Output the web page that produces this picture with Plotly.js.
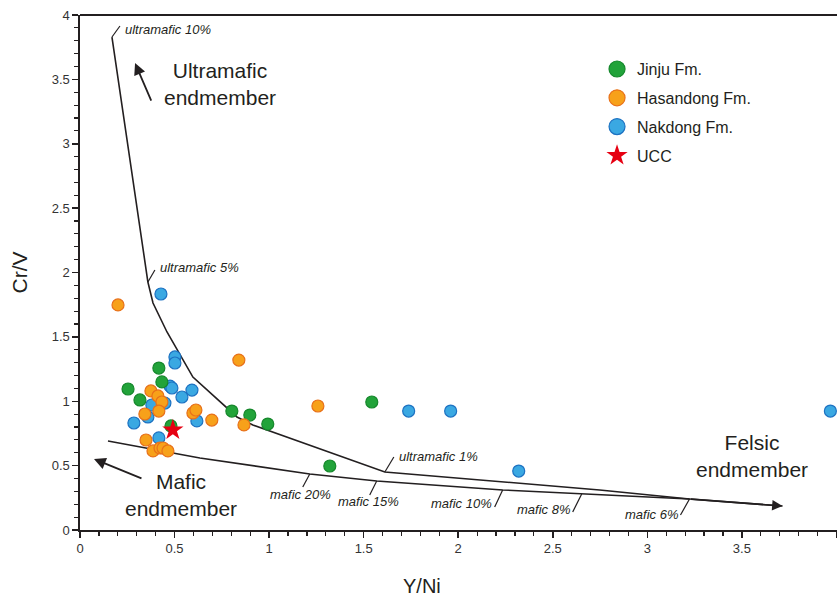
<!DOCTYPE html>
<html>
<head>
<meta charset="utf-8">
<script src="https://cdn.plot.ly/plotly-3.0.1.min.js"></script>
<style>html,body{margin:0;padding:0;background:#fff;}#chart{width:837px;height:599px;}</style>
</head>
<body>
<div id="chart"></div>
<script>
// ---- Data ----
const jinjuX = [0.254, 0.317, 0.417, 0.433, 0.481, 0.803, 0.898, 0.993, 1.543, 1.321];
const jinjuY = [1.095, 1.010, 1.258, 1.150, 0.808, 0.924, 0.893, 0.823, 0.994, 0.497];

const hasandongX = [0.201, 0.840, 1.258, 0.375, 0.412, 0.433, 0.417, 0.343, 0.597, 0.613, 0.697, 0.867, 0.349, 0.386, 0.423, 0.439, 0.465];
const hasandongY = [1.748, 1.320, 0.963, 1.080, 1.041, 0.994, 0.924, 0.901, 0.909, 0.932, 0.854, 0.816, 0.699, 0.614, 0.637, 0.637, 0.614];

const nakdongX = [0.428, 0.502, 0.502, 0.476, 0.486, 0.592, 0.539, 0.380, 0.449, 0.359, 0.285, 0.618, 0.417, 1.738, 1.960, 2.320, 3.968];
const nakdongY = [1.833, 1.344, 1.297, 1.118, 1.103, 1.087, 1.033, 0.971, 0.986, 0.878, 0.831, 0.847, 0.715, 0.924, 0.924, 0.458, 0.924];

const uccX = [0.491];
const uccY = [0.777];

// ultramafic mixing curve
const ultraX = [0.169, 0.359, 0.386, 0.460, 0.597, 0.830, 0.914, 1.612, 2.748, 3.223];
const ultraY = [3.829, 1.926, 1.763, 1.538, 1.188, 0.878, 0.816, 0.450, 0.311, 0.241];
// mafic mixing curve
const maficX = [0.148, 0.634, 1.215, 1.569, 2.235, 2.653, 3.223, 3.715];
const maficY = [0.691, 0.559, 0.435, 0.381, 0.311, 0.280, 0.241, 0.186];

const tickVals = [0, 0.5, 1, 1.5, 2, 2.5, 3, 3.5, 4];
const tickText = ['0', '0.5', '1', '1.5', '2', '2.5', '3', '3.5', '4'];

const seriesNames = ['Jinju Fm.', 'Hasandong Fm.', 'Nakdong Fm.', 'UCC'];

// labels along curves (index into curve arrays)
const curveLabels = [
  {curve: 'u', i: 0, text: 'ultramafic 10%'},
  {curve: 'u', i: 1, text: 'ultramafic 5%'},
  {curve: 'u', i: 7, text: 'ultramafic 1%'},
  {curve: 'm', i: 2, text: 'mafic 20%'},
  {curve: 'm', i: 3, text: 'mafic 15%'},
  {curve: 'm', i: 4, text: 'mafic 10%'},
  {curve: 'm', i: 5, text: 'mafic 8%'},
  {curve: 'm', i: 6, text: 'mafic 6%'}
];
// placement (pixels) of label ticks and texts
const labelStyle = [
  {tick: [8, -11], shift: [11, -8], anchor: 'left'},
  {tick: [7, -12], shift: [10, -15], anchor: 'left'},
  {tick: [9, -15], shift: [12, -16], anchor: 'left'},
  {tick: [-7, 13], shift: [-9, 21], anchor: 'center'},
  {tick: [-7, 14], shift: [-8, 21], anchor: 'center'},
  {tick: [-8, 17], shift: [-9, 14], anchor: 'right'},
  {tick: [-9, 18], shift: [-10, 16], anchor: 'right'},
  {tick: [-9, 16], shift: [-10, 16], anchor: 'right'}
];

// ---- Styles ----
const INK = '#231f20';
const FONT = 'Arial, "Liberation Sans", sans-serif';
const colors = {
  jinju: {fill: '#22a33a', line: '#16882c'},
  hasan: {fill: '#f7a11a', line: '#e8711a'},
  nak: {fill: '#3aa8e2', line: '#1d72c2'},
  ucc: '#e60012'
};

const traces = [];
traces.push({x: ultraX, y: ultraY, mode: 'lines', line: {color: INK, width: 1.6}, showlegend: false, hoverinfo: 'skip'});
traces.push({x: maficX, y: maficY, mode: 'lines', line: {color: INK, width: 1.6}, showlegend: false, hoverinfo: 'skip'});

function pts(x, y, c, name) {
  return {x: x, y: y, mode: 'markers', name: name, showlegend: false,
    marker: {size: 12, color: c.fill, line: {color: c.line, width: 1.2}}};
}
traces.push(pts(nakdongX, nakdongY, colors.nak, seriesNames[2]));
traces.push(pts(jinjuX, jinjuY, colors.jinju, seriesNames[0]));
traces.push(pts(hasandongX, hasandongY, colors.hasan, seriesNames[1]));
traces.push({x: uccX, y: uccY, mode: 'markers', name: seriesNames[3], showlegend: false,
  marker: {symbol: 'star', size: 16, color: colors.ucc, line: {width: 0}}});

// legend-only entries (bigger symbols like the reference)
const legendColors = [colors.jinju, colors.hasan, colors.nak];
for (let k = 0; k < 3; k++) {
  traces.push({x: [null], y: [null], mode: 'markers', name: seriesNames[k], legendgroup: 'g' + k,
    marker: {size: 20, color: legendColors[k].fill, line: {color: legendColors[k].line, width: 1.2}}});
}
traces.push({x: [null], y: [null], mode: 'markers', name: seriesNames[3], legendgroup: 'g3',
  marker: {symbol: 'star', size: 20, color: colors.ucc, line: {width: 0}}});

// ---- annotations & shapes ----
const annotations = [];
const shapes = [];
curveLabels.forEach((lb, k) => {
  const cx = lb.curve === 'u' ? ultraX : maficX;
  const cy = lb.curve === 'u' ? ultraY : maficY;
  const st = labelStyle[k];
  shapes.push({type: 'line', xref: 'x', yref: 'y', xsizemode: 'pixel', ysizemode: 'pixel',
    xanchor: cx[lb.i], yanchor: cy[lb.i], x0: 0, x1: st.tick[0], y0: 0, y1: -st.tick[1],
    line: {color: INK, width: 1.2}});
  annotations.push({x: cx[lb.i], y: cy[lb.i], xref: 'x', yref: 'y', text: lb.text, showarrow: false,
    xanchor: st.anchor, yanchor: 'middle', xshift: st.shift[0], yshift: -st.shift[1],
    font: {family: FONT, size: 13, color: INK, style: 'italic'}});
});

// arrowhead at end of mafic curve (felsic direction)
const n = maficX.length;
annotations.push({x: maficX[n - 1], y: maficY[n - 1], ax: maficX[n - 2], ay: maficY[n - 2],
  xref: 'x', yref: 'y', axref: 'x', ayref: 'y', text: '', showarrow: true,
  arrowhead: 2, arrowsize: 1.3, arrowwidth: 1.6, arrowcolor: INK});

// endmember arrows
annotations.push({x: 0.291, y: 3.627, ax: 0.380, ay: 3.324, xref: 'x', yref: 'y', axref: 'x', ayref: 'y',
  text: '', showarrow: true, arrowhead: 2, arrowsize: 1.3, arrowwidth: 1.8, arrowcolor: INK});
annotations.push({x: 0.074, y: 0.551, ax: 0.333, ay: 0.396, xref: 'x', yref: 'y', axref: 'x', ayref: 'y',
  text: '', showarrow: true, arrowhead: 2, arrowsize: 1.3, arrowwidth: 1.8, arrowcolor: INK});

const bigFont = {family: FONT, size: 21, color: INK};
annotations.push({x: 0.740, y: 3.468, xref: 'x', yref: 'y', text: 'Ultramafic<br>endmember', showarrow: false, font: bigFont});
annotations.push({x: 0.534, y: 0.272, xref: 'x', yref: 'y', text: 'Mafic<br>endmember', showarrow: false, font: bigFont});
annotations.push({x: 3.551, y: 0.571, xref: 'x', yref: 'y', text: 'Felsic<br>endmember', showarrow: false, font: bigFont});

// x-axis title (placed like the reference, left of the plot centre)
annotations.push({x: 0.452, y: 0, xref: 'paper', yref: 'paper', yanchor: 'middle', yshift: -56,
  text: 'Y/Ni', showarrow: false, font: {family: FONT, size: 20, color: INK}});

// top frame line
shapes.push({type: 'line', xref: 'paper', yref: 'paper', x0: 0, x1: 1, y0: 1, y1: 1, line: {color: INK, width: 1.8}});

const axisCommon = {
  showgrid: false, zeroline: false, showline: true, linecolor: INK, linewidth: 1.6,
  ticks: 'outside', ticklen: 6, tickwidth: 1.5, tickcolor: INK,
  tickmode: 'array', tickvals: tickVals, ticktext: tickText,
  tickfont: {family: FONT, size: 13, color: '#333'},
  minor: {dtick: 0.1, tick0: 0, ticks: 'outside', ticklen: 4, tickwidth: 1.2, tickcolor: INK, showgrid: false}
};

const layout = {
  width: 837, height: 599,
  margin: {l: 80, r: 0, t: 15, b: 69},
  paper_bgcolor: '#fff', plot_bgcolor: '#fff',
  font: {family: FONT, color: INK},
  xaxis: Object.assign({}, axisCommon, {range: [0, 4.003]}),
  yaxis: Object.assign({}, axisCommon, {range: [0, 4], title: {text: 'Cr/V', font: {family: FONT, size: 21, color: INK}, standoff: 18}}),
  showlegend: true,
  legend: {x: 0.683, y: 0.928, xanchor: 'left', yanchor: 'top', bgcolor: 'rgba(0,0,0,0)',
    font: {family: FONT, size: 16, color: INK}, tracegroupgap: 5, traceorder: 'grouped'},
  annotations: annotations,
  shapes: shapes
};

Plotly.newPlot('chart', traces, layout, {displayModeBar: false, staticPlot: true});
</script>
</body>
</html>
